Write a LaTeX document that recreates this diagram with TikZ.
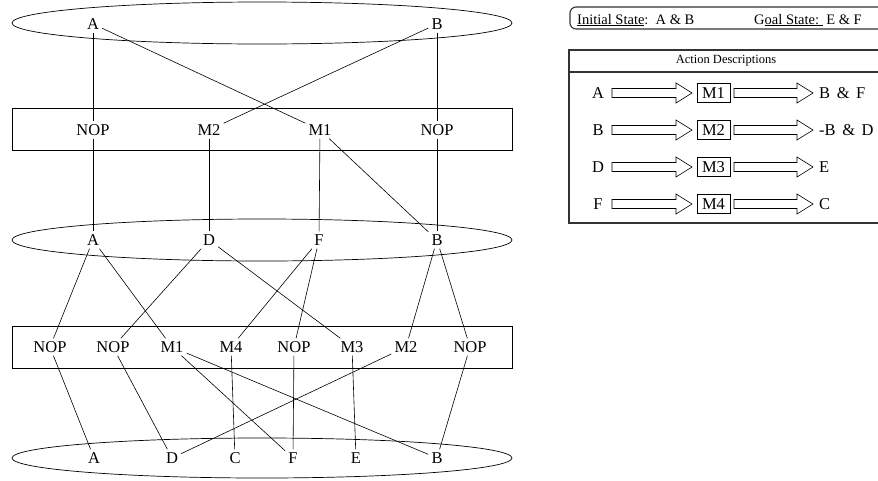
\documentclass[tikz,border=0pt]{standalone}
\usepackage{fontspec}
\setmainfont{Liberation Serif}
\usetikzlibrary{calc}

% hollow block arrow: from x0 to x1 at height y, head starting at xh
\newcommand{\hollowarrow}[4]{%
  \draw[boxline] (#1,#4-4.5) -- (#3,#4-4.5) -- (#3,#4-10) -- (#2,#4)
    -- (#3,#4+10) -- (#3,#4+4.5) -- (#1,#4+4.5) -- cycle;}

\begin{document}
\begin{tikzpicture}[x=1pt,y=-1pt,
  lbl/.style={font=\fontsize{16.5}{19}\selectfont, inner sep=3pt,
              text height=11pt, text depth=0pt},
  link/.style={line width=0.6pt},
  frame/.style={line width=0.7pt},
  boxline/.style={line width=0.6pt},
  panel/.style={line width=1.1pt, draw=black!80},
  mbox/.style={draw, line width=0.6pt, font=\fontsize{16.5}{19}\selectfont,
               inner sep=1.5pt, minimum width=33pt, minimum height=19pt,
               text height=11pt, text depth=0pt},
  rlbl/.style={font=\fontsize{16.5}{19}\selectfont, inner sep=0pt,
               text height=11pt, text depth=0pt}]

\useasboundingbox (0,0) rectangle (878,480);
\clip (0,0) rectangle (878,480);

% ---------- plan graph: states and action layers ----------
\draw[frame] (262,23) ellipse [x radius=250pt, y radius=21pt];
\draw[frame] (12,108) rectangle (512,150);
\draw[frame] (262,240) ellipse [x radius=250pt, y radius=21pt];
\draw[frame] (12,326) rectangle (512,368);
\draw[frame] (262,458) ellipse [x radius=250pt, y radius=20pt];

% state level 0
\node[lbl] (tA) at (93,24) {A};
\node[lbl] (tB) at (437,24) {B};

% action level 1
\node[lbl] (p1) at (93,130) {NOP};
\node[lbl] (p2) at (209,130) {M2};
\node[lbl] (p3) at (320,130) {M1};
\node[lbl] (p4) at (437,130) {NOP};

% state level 1
\node[lbl] (mA) at (93,240) {A};
\node[lbl] (mD) at (209,240) {D};
\node[lbl] (mF) at (319,240) {F};
\node[lbl] (mB) at (437,240) {B};

% action level 2
\node[lbl] (q1) at (50,347) {NOP};
\node[lbl] (q2) at (113,347) {NOP};
\node[lbl] (q3) at (172,347) {M1};
\node[lbl] (q4) at (231,347) {M4};
\node[lbl] (q5) at (294,347) {NOP};
\node[lbl] (q6) at (352,347) {M3};
\node[lbl] (q7) at (406,347) {M2};
\node[lbl] (q8) at (470,347) {NOP};

% state level 2
\node[lbl] (bA) at (94,458) {A};
\node[lbl] (bD) at (172,458) {D};
\node[lbl] (bC) at (235,458) {C};
\node[lbl] (bF) at (293,458) {F};
\node[lbl] (bE) at (356,458) {E};
\node[lbl] (bB) at (437,458) {B};

% links: level 0 -> actions 1
\draw[link] (tA) -- (p1);
\draw[link] (tA) -- (p3);
\draw[link] (tB) -- (p2);
\draw[link] (tB) -- (p4);
% actions 1 -> level 1
\draw[link] (p1) -- (mA);
\draw[link] (p2) -- (mD);
\draw[link] (p3) -- (mF);
\draw[link] (p3) -- (mB);
\draw[link] (p4) -- (mB);
% level 1 -> actions 2
\draw[link] (mA) -- (q1);
\draw[link] (mA) -- (q3);
\draw[link] (mD) -- (q2);
\draw[link] (mD) -- (q6);
\draw[link] (mF) -- (q4);
\draw[link] (mF) -- (q5);
\draw[link] (mB) -- (q7);
\draw[link] (mB) -- (q8);
% actions 2 -> level 2
\draw[link] (q1) -- (bA);
\draw[link] (q2) -- (bD);
\draw[link] (q3) -- (bF);
\draw[link] (q3) -- (bB);
\draw[link] (q4) -- (bC);
\draw[link] (q5) -- (bF);
\draw[link] (q6) -- (bE);
\draw[link] (q7) -- (bD);
\draw[link] (q8) -- (bB);

% ---------- initial / goal state bar ----------
\draw[panel, rounded corners=6pt] (570,7) rectangle (895,29);
\node[anchor=base west, inner sep=0pt, font=\fontsize{14.5}{17}\selectfont]
  (init) at (577,24) {\underline{Initial State}:\ \ A \& B};
\node[anchor=base west, inner sep=0pt, font=\fontsize{14.5}{17}\selectfont]
  (goal) at (754,24) {G\underline{oal State:\ }\ E \& F};

% ---------- action descriptions table ----------
\draw[panel] (569,50) rectangle (895,223);
\draw[panel] (569,72) -- (895,72);
\node[font=\fontsize{12.5}{15}\selectfont, inner sep=0pt] (hdr) at (726,61)
  {Action Descriptions};

\foreach \y/\pre/\act/\post in {93/A/M1/B\hspace{0.4em}\&\hspace{0.4em}F,
                                130/B/M2/-B\hspace{0.4em}\&\hspace{0.4em}D,
                                167/D/M3/E,
                                204/F/M4/C}{
  \node[rlbl] at (598,\y) {\pre};
  \hollowarrow{612}{692}{676}{\y}
  \node[mbox] at (713.5,\y) {\act};
  \hollowarrow{734}{813}{797}{\y}
  \node[rlbl, anchor=west] at (819,\y) {\post};
}

\end{tikzpicture}
\end{document}
